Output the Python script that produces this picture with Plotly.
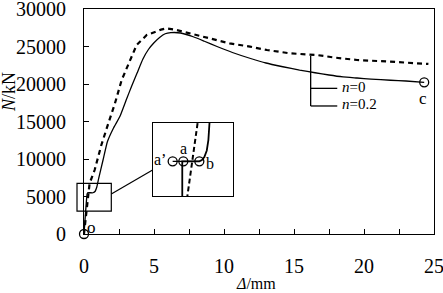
import plotly.graph_objects as go

# ---- data ----
solid_x = [0, 0.22, 0.26, 0.64, 0.8, 0.92, 1.05, 1.36, 1.67, 2.1, 2.57, 3.0, 3.4, 3.8, 4.2, 4.6, 5.0,
           5.4, 5.8, 6.2, 6.9, 7.8, 8.6, 9.5, 10.6, 11.9, 13.0, 14.2, 15.4, 16.5, 17.5, 18.5, 19.5,
           20.5, 21.9, 23.0, 24.3]
solid_y = [0, 5300, 5500, 5500, 5700, 6300, 7420, 9870, 12300, 14100, 15700, 17800, 19700, 21500,
           23300, 24600, 25500, 26200, 26700, 26850, 26800, 26300, 25700, 25000, 24200, 23400, 22800,
           22300, 21850, 21500, 21200, 20950, 20800, 20650, 20500, 20400, 20230]

dashed_x = [0, 0.29, 0.4, 0.76, 1.0, 1.24, 1.74, 2.21, 2.69, 3.29, 3.76, 4.48, 5.07, 5.5, 5.9, 6.5,
            7.07, 8.5, 10.4, 11.86, 13.07, 14.7, 16.6, 18.0, 19.5, 21.86, 23.2, 24.6]
dashed_y = [0, 5500, 6760, 8530, 10300, 11870, 14760, 17420, 20530, 23200, 25200, 26530, 26980,
            27250, 27420, 27250, 26980, 26300, 25420, 24980, 24530, 24090, 23870, 23500, 23200,
            22980, 22850, 22670]

# magnified detail (inset) near the yield point
inset_solid_x = [0.399, 0.399, 0.916, 0.995, 1.068, 1.142, 1.19, 1.215, 1.23]
inset_solid_y = [2900, 4815, 4815, 4878, 5026, 5358, 5874, 6465, 6900]
inset_dashed_x = [0.540, 0.877]
inset_dashed_y = [2900, 6900]
inset_pts_x = [0.108, 0.431, 0.916]
inset_pts_y = [4815, 4815, 4815]

end_pts_x = [0, 24.3]
end_pts_y = [0, 20230]

x_ticks = [0, 5, 10, 15, 20, 25]
y_ticks = [0, 5000, 10000, 15000, 20000, 25000, 30000]
y_tick_text = ["0", "5000", "10000", "15000", "20000", "25000", "30000"]

series_names = ["n=0", "n=0.2"]

FONT = "Liberation Serif, Times New Roman, serif"
BLACK = "#000000"

fig = go.Figure()
fig.add_trace(go.Scatter(x=solid_x, y=solid_y, mode="lines", name=series_names[0],
                         line=dict(color=BLACK, width=1.3, shape="spline", smoothing=0.4),
                         showlegend=False))
fig.add_trace(go.Scatter(x=dashed_x, y=dashed_y, mode="lines", name=series_names[1],
                         line=dict(color=BLACK, width=2.2, dash="5px,4px"), showlegend=False))
fig.add_trace(go.Scatter(x=end_pts_x, y=end_pts_y, mode="markers", cliponaxis=False,
                         marker=dict(symbol="circle-open", size=9, color=BLACK,
                                     line=dict(width=1.3, color=BLACK)), showlegend=False))

# inset
fig.add_trace(go.Scatter(x=inset_solid_x, y=inset_solid_y, mode="lines", xaxis="x2", yaxis="y2",
                         line=dict(color=BLACK, width=1.8), showlegend=False))
fig.add_trace(go.Scatter(x=inset_dashed_x, y=inset_dashed_y, mode="lines", xaxis="x2", yaxis="y2",
                         line=dict(color=BLACK, width=2, dash="5px,3px"), showlegend=False))
fig.add_trace(go.Scatter(x=inset_pts_x, y=inset_pts_y, mode="lines+markers", xaxis="x2", yaxis="y2",
                         cliponaxis=False,
                         line=dict(color=BLACK, width=1.3),
                         marker=dict(symbol="circle-open", size=9, color=BLACK,
                                     line=dict(width=1.3, color=BLACK)), showlegend=False))


def ann(x, y, text, size, xref="x", yref="y", xanchor="center", **kw):
    return dict(x=x, y=y, xref=xref, yref=yref, text=text, showarrow=False,
                xanchor=xanchor, yanchor="middle",
                font=dict(family=FONT, size=size, color=BLACK), **kw)


annotations = [
    ann(-0.278, 4917, "a’", 16, "x2", "y2"),
    ann(0.430, 5471, "a", 16, "x2", "y2"),
    ann(1.242, 4716, "b", 16, "x2", "y2"),
    ann(0.55, 890, "o", 17),
    ann(24.19, 18093, "c", 17),
    ann(18.25, 19650, "<i>n</i>=0", 15, xanchor="left"),
    ann(18.25, 17400, "<i>n</i>=0.2", 15, xanchor="left"),
    ann(-0.215, 0.63, "<i>N</i>/kN", 18, "paper", "paper", textangle=-90),
    ann(0.49, -0.22, "<i>Δ</i>/mm", 16, "paper", "paper"),
]

shapes = [
    # legend leader bracket
    dict(type="line", xref="x", yref="y", x0=16.19, x1=16.19, y0=23730, y1=17070,
         line=dict(color=BLACK, width=1.3)),
    dict(type="line", xref="x", yref="y", x0=16.19, x1=18.09, y0=19420, y1=19420,
         line=dict(color=BLACK, width=1.3)),
    dict(type="line", xref="x", yref="y", x0=16.19, x1=18.09, y0=17070, y1=17070,
         line=dict(color=BLACK, width=1.3)),
    # small box around the yield region
    dict(type="rect", xref="paper", yref="paper", x0=-0.02, x1=0.078, y0=0.102, y1=0.225,
         line=dict(color=BLACK, width=1.2)),
    # connector to the inset
    dict(type="line", xref="paper", yref="paper", x0=0.078, y0=0.178, x1=0.196, y1=0.284,
         line=dict(color=BLACK, width=1.2)),
]

fig.update_layout(
    width=443, height=293,
    margin=dict(l=84, r=9, t=9, b=59, autoexpand=False),
    paper_bgcolor="white", plot_bgcolor="white",
    font=dict(family=FONT, size=20, color=BLACK),
    annotations=annotations, shapes=shapes,
    xaxis=dict(range=[0, 25], tickvals=x_ticks, ticktext=[str(v) for v in x_ticks],
               ticks="inside", ticklen=5, tickcolor=BLACK, automargin=False,
               ticklabeloverflow="allow",
               showline=True, linecolor=BLACK, linewidth=1.2, mirror=True, showgrid=False,
               zeroline=False, ticklabelstandoff=14,
               minor=dict(dtick=2.5, ticks="inside", ticklen=5, tickcolor=BLACK, showgrid=False),
               tickfont=dict(family=FONT, size=20, color=BLACK)),
    yaxis=dict(range=[0, 30000], tickvals=y_ticks, ticktext=y_tick_text, ticks="inside",
               ticklen=5, tickcolor=BLACK, automargin=False, ticklabeloverflow="allow",
               showline=True, linecolor=BLACK, linewidth=1.2, mirror=True, showgrid=False,
               zeroline=False, ticklabelstandoff=13,
               tickfont=dict(family=FONT, size=20, color=BLACK)),
    xaxis2=dict(domain=[0.196, 0.427], anchor="y2", range=[-0.5, 1.95], showticklabels=False,
                ticks="", showline=True, mirror=True, linecolor=BLACK, linewidth=1.2,
                showgrid=False, zeroline=False, automargin=False),
    yaxis2=dict(domain=[0.169, 0.495], anchor="x2", range=[3070, 6760], showticklabels=False,
                ticks="", showline=True, mirror=True, linecolor=BLACK, linewidth=1.2,
                showgrid=False, zeroline=False, automargin=False),
)

# remove the browser's default page margin so the figure sits at the window's corner
fig.write_html("out.html", config={"displayModeBar": False},
               post_script="document.body.style.margin='0';")
